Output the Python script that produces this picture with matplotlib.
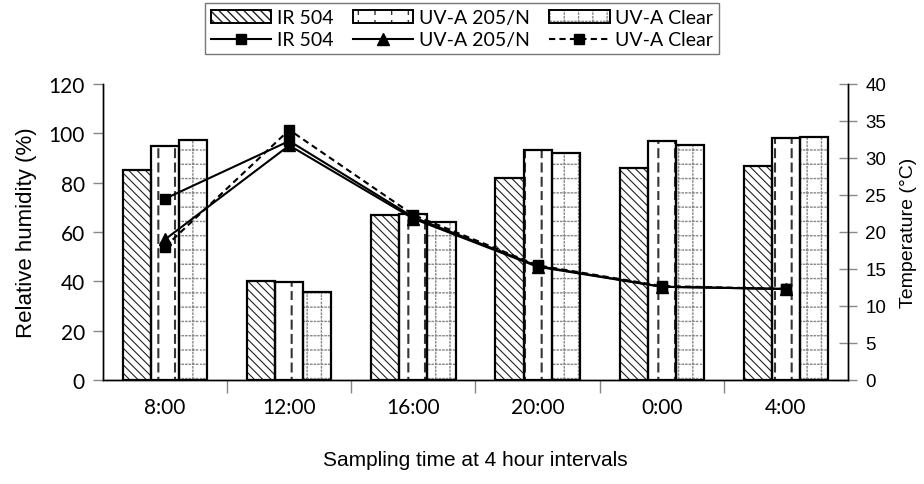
import numpy as np
import matplotlib
matplotlib.use("Agg")
import matplotlib.pyplot as plt
import matplotlib.hatch as mhatch
from matplotlib.path import Path
from matplotlib.patches import Patch
import warnings

warnings.filterwarnings("ignore")

# data
times = ['8:00', '12:00', '16:00', '20:00', '0:00', '4:00']
rh_ir = [85.2, 40.3, 66.9, 82.0, 85.8, 86.7]
rh_uv205 = [95.0, 39.6, 67.3, 93.2, 96.8, 98.1]
rh_clear = [97.2, 35.8, 64.2, 92.0, 95.3, 98.4]
temp_ir = [24.5, 32.3, 22.0, 15.4, 12.6, 12.3]
temp_uv205 = [19.0, 31.7, 21.8, 15.3, 12.6, 12.3]
temp_clear = [18.0, 33.8, 22.3, 15.5, 12.7, 12.3]
labels = ['IR 504', 'UV-A 205/N', 'UV-A Clear']


# custom hatches: dashed vertical lines ('v') and dotted grid ('g')
class DashVert(mhatch.HatchPatternBase):
    def __init__(self, hatch, density):
        n = hatch.count('v')
        self.nx = 6 * n
        self.ny = 7 * n
        self.num_vertices = self.nx * self.ny * 2

    def set_vertices_and_codes(self, vertices, codes):
        xs = (np.arange(self.nx) + 0.5) / self.nx
        ys = np.arange(self.ny) / self.ny
        X, Y = np.meshgrid(xs, ys)
        X = X.ravel()
        Y = Y.ravel()
        vertices[0::2, 0] = X
        vertices[0::2, 1] = Y
        vertices[1::2, 0] = X
        vertices[1::2, 1] = Y + 0.55 / self.ny
        codes[0::2] = Path.MOVETO
        codes[1::2] = Path.LINETO


class DotGrid(mhatch.HatchPatternBase):
    def __init__(self, hatch, density):
        n = hatch.count('g')
        self.nl = 7 * n
        self.nd = 28 * n
        self.num_vertices = 2 * self.nl * self.nd * 2

    def set_vertices_and_codes(self, vertices, codes):
        ls = (np.arange(self.nl) + 0.5) / self.nl
        ds = np.arange(self.nd) / self.nd
        L, D = np.meshgrid(ls, ds)
        L = L.ravel()
        D = D.ravel()
        m = len(L)
        d = 0.012
        vertices[0:2 * m:2, 0] = L
        vertices[0:2 * m:2, 1] = D
        vertices[1:2 * m:2, 0] = L
        vertices[1:2 * m:2, 1] = D + d
        vertices[2 * m::2, 0] = D
        vertices[2 * m::2, 1] = L
        vertices[2 * m + 1::2, 0] = D + d
        vertices[2 * m + 1::2, 1] = L
        codes[0::2] = Path.MOVETO
        codes[1::2] = Path.LINETO


mhatch._hatch_types.append(DashVert)
mhatch._hatch_types.append(DotGrid)

arial = 'Liberation Sans'
calib = 'Lato'

fig = plt.figure(figsize=(9.24, 4.85), dpi=100)
ax = fig.add_axes([103 / 924, 1 - 381 / 485, 745 / 924, 296 / 485])
ax2 = ax.twinx()

x = np.arange(len(times))
w = 0.226
styles = [
    (rh_ir, '\\\\\\\\', '#222222', 0.8),
    (rh_uv205, 'v', '#333333', 1.5),
    (rh_clear, 'g', '#888888', 1.0),
]
handles_bar = []
for i, (vals, hatch, hc, hlw) in enumerate(styles):
    plt.rcParams['hatch.linewidth'] = hlw
    xs = x + (i - 1) * w
    ax.bar(xs, vals, w, color='white', edgecolor=hc, linewidth=0,
           hatch=hatch, zorder=2)
    ax.bar(xs, vals, w, fill=False, edgecolor='black', linewidth=1.6,
           zorder=3)
    p1 = Patch(facecolor='white', edgecolor=hc, hatch=hatch, linewidth=0)
    p2 = Patch(fill=False, edgecolor='black', linewidth=1.4)
    handles_bar.append((p1, p2))

l1, = ax2.plot(x, temp_ir, color='black', lw=1.5, marker='s', ms=7.5,
               zorder=5)
l2, = ax2.plot(x, temp_uv205, color='black', lw=1.5, marker='^', ms=8,
               zorder=5)
l3, = ax2.plot(x, temp_clear, color='black', lw=1.5, ls=(0, (3, 2)),
               marker='s', ms=7.5, zorder=5)

ax.set_xlim(-0.5, len(times) - 0.5)
ax.set_ylim(0, 120)
ax.set_yticks(np.arange(0, 121, 20))
ax2.set_ylim(0, 40)
ax2.set_yticks(np.arange(0, 41, 5))

ax.set_xticks(np.arange(0.5, len(times) - 1, 1))
ax.set_xticklabels([])
ax.set_xticks(x, minor=True)
ax.set_xticklabels(times, minor=True, fontfamily=calib, fontsize=15)
ax.tick_params(axis='x', which='major', direction='out', length=9,
               color='#888888', width=1)
ax.tick_params(axis='x', which='minor', length=0, pad=12)
ax.tick_params(axis='y', direction='out', length=7, color='#888888',
               width=1, pad=6)
for t in ax.get_yticklabels():
    t.set_fontfamily(calib)
    t.set_fontsize(15)
ax2.tick_params(axis='y', direction='inout', length=13, color='#888888',
                width=1, pad=6)
for t in ax2.get_yticklabels():
    t.set_fontfamily(arial)
    t.set_fontsize(13.5)

for a in (ax, ax2):
    a.spines['top'].set_visible(False)
    a.spines['left'].set_linewidth(1)
    a.spines['right'].set_linewidth(1)
    a.spines['bottom'].set_linewidth(1)
    a.patch.set_visible(False)

ax.set_ylabel('Relative humidity (%)', fontfamily=arial, fontsize=16)
ax.yaxis.set_label_coords(-0.088, 0.5)
ax2.set_ylabel('Temperature (°C)', fontfamily=arial, fontsize=14)
ax2.yaxis.set_label_coords(1.07, 0.5)
ax.set_xlabel('Sampling time at 4 hour intervals', fontfamily=arial,
              fontsize=15, labelpad=24)

handles = [handles_bar[0], l1, handles_bar[1], l2, handles_bar[2], l3]
names = [labels[0], labels[0], labels[1], labels[1], labels[2], labels[2]]
leg = fig.legend(handles, names, ncol=3, loc='upper center',
                 bbox_to_anchor=(0.5, 0.995), frameon=True, fancybox=False,
                 edgecolor='#555555', prop={'family': calib, 'size': 14},
                 handlelength=3.1, handleheight=0.6, handletextpad=0.3,
                 columnspacing=1.0, labelspacing=0.25, borderpad=0.3,
                 borderaxespad=0.1)
leg.get_frame().set_linewidth(1)

fig.savefig('out.png', dpi=100)
